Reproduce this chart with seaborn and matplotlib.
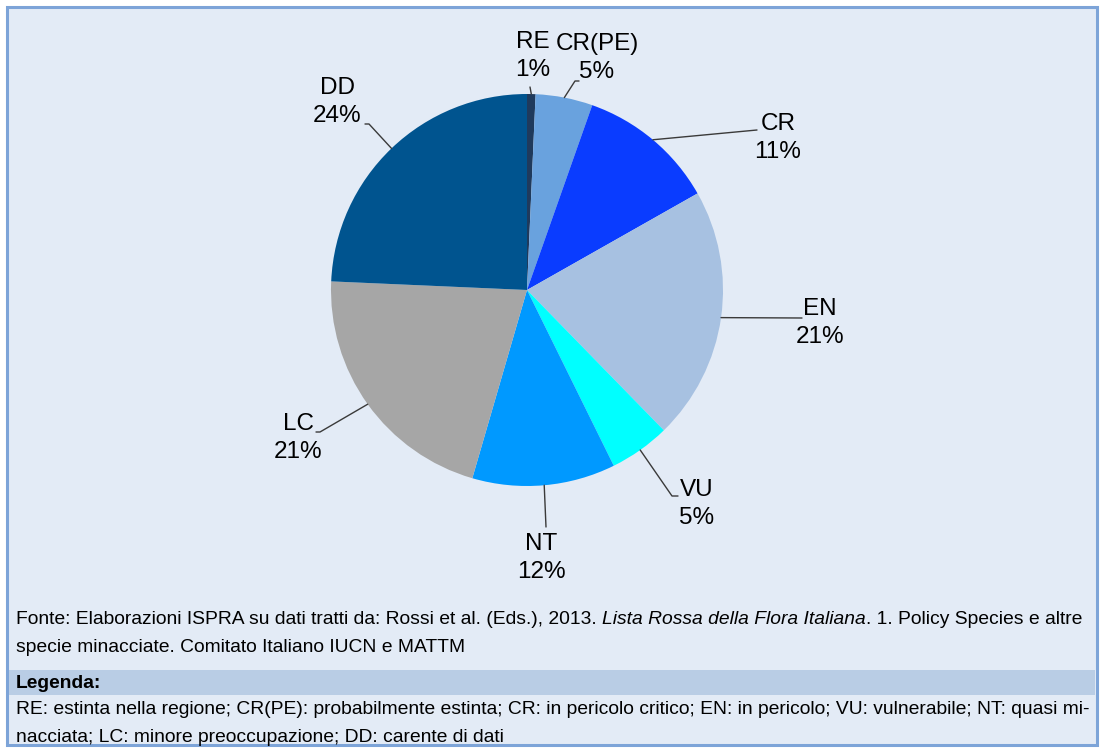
import numpy as np
import matplotlib.pyplot as plt
import seaborn as sns
from matplotlib.patches import Rectangle

# Dati: categorie IUCN della flora italiana (percentuali)
categorie = ['RE', 'CR(PE)', 'CR', 'EN', 'VU', 'NT', 'LC', 'DD']
percentuali = [0.7, 4.7, 11.4, 20.9, 5.0, 11.8, 21.2, 24.3]
colori = ['#1F3A5C', '#69A2DE', '#0A3CFF', '#A7C1E1', '#00FFFF', '#0099FF', '#A6A6A6', '#00548F']

# Posizione delle etichette (pixel, centro del testo) e punti delle linee guida
pos_etichette = [(533, 56), (597, 58), (778, 138), (820, 323), (697, 504), (541, 558), (298, 438), (337, 102)]
punti_linee = [[(530, 87)], [(575, 81), (579, 81)], [(757, 130)], [(802, 318)],
               [(672, 496), (678, 496)], [(546, 527)], [(320, 432), (316, 432)], [(369, 124), (365, 124)]]

fonte_1 = "Fonte: Elaborazioni ISPRA su dati tratti da: Rossi et al. (Eds.), 2013. "
fonte_corsivo = "Lista Rossa della Flora Italiana"
fonte_2 = ". 1. Policy Species e altre"
fonte_3 = "specie minacciate. Comitato Italiano IUCN e MATTM"
legenda_1 = "RE: estinta nella regione; CR(PE): probabilmente estinta; CR: in pericolo critico; EN: in pericolo; VU: vulnerabile; NT: quasi mi-"
legenda_2 = "nacciata; LC: minore preoccupazione; DD: carente di dati"

sns.set_style('white')
plt.rcParams['font.family'] = ['Liberation Sans', 'DejaVu Sans']
plt.rcParams['text.color'] = 'black'

W, H = 1104, 749
fig = plt.figure(figsize=(W / 100, H / 100), dpi=100)
fig.patch.set_facecolor('white')

# Riquadro di sfondo e fascia "Legenda"
fig.patches.append(Rectangle((7 / W, 1 - 745 / H), 1090 / W, 738 / H, transform=fig.transFigure,
                             facecolor='#E3EBF6', edgecolor='#7DA4D8', linewidth=2.2, zorder=-10))
fig.patches.append(Rectangle((9 / W, 1 - 695 / H), 1086 / W, 25 / H, transform=fig.transFigure,
                             facecolor='#B9CDE5', edgecolor='none', zorder=-9))

# Torta
cx, cy, R = 527, 290, 196
ax = fig.add_axes([(cx - R) / W, 1 - (cy + R) / H, 2 * R / W, 2 * R / H])
ax.patch.set_alpha(0)
wedges, _ = ax.pie(percentuali, colors=colori, startangle=90, counterclock=False, radius=1,
                   wedgeprops={'linewidth': 0})
ax.set_xlim(-1, 1)
ax.set_ylim(-1, 1)
ax.axis('off')


def px(p):
    return (p[0] - cx) / R, (cy - p[1]) / R


for w, cat, p, pos, linea in zip(wedges, categorie, percentuali, pos_etichette, punti_linee):
    ang = np.deg2rad((w.theta1 + w.theta2) / 2)
    xs = [np.cos(ang)] + [px(q)[0] for q in linea]
    ys = [np.sin(ang)] + [px(q)[1] for q in linea]
    ax.plot(xs, ys, color='#3A3A3A', linewidth=1, clip_on=False)
    tx, ty = px(pos)
    ax.text(tx, ty, f"{cat}\n{round(p)}%", ha='center', va='center', fontsize=17.5,
            linespacing=1.38, color='black', clip_on=False)

# Note in fondo
fs = 13.9
t1 = fig.text(16 / W, 1 - 620 / H, fonte_1, fontsize=fs, va='center')
t2 = ax.annotate(fonte_corsivo, xy=(1, 0), xycoords=t1, va='bottom', ha='left',
                 fontsize=fs, style='italic', annotation_clip=False)
ax.annotate(fonte_2, xy=(1, 0), xycoords=t2, va='bottom', ha='left',
            fontsize=fs, annotation_clip=False)
fig.text(16 / W, 1 - 648 / H, fonte_3, fontsize=fs, va='center')
fig.text(16 / W, 1 - 683 / H, "Legenda:", fontsize=fs, va='center', fontweight='bold')
fig.text(16 / W, 1 - 710 / H, legenda_1, fontsize=fs, va='center')
fig.text(16 / W, 1 - 738 / H, legenda_2, fontsize=fs, va='center')

plt.savefig('out.png', dpi=100)
